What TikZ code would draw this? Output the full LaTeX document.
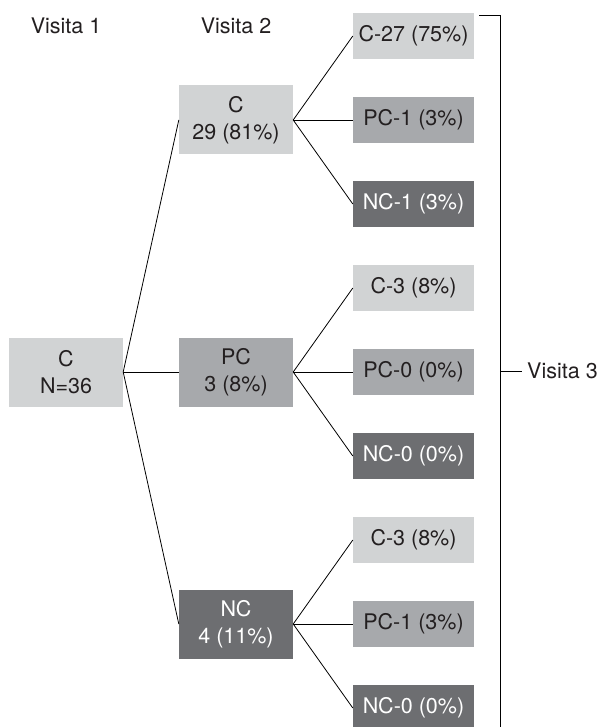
\documentclass[tikz,border=0pt]{standalone}
\usepackage{fontspec}
\setmainfont{TeX Gyre Heros}
\usetikzlibrary{trees}

\definecolor{lightbox}{HTML}{D1D3D4}
\definecolor{midbox}{HTML}{A7A9AC}
\definecolor{darkbox}{HTML}{6D6E71}
\definecolor{inktext}{HTML}{231F20}

\begin{document}
\begin{tikzpicture}[x=1pt,y=1pt]
	\tikzstyle{every node}=[font=\fontsize{21.5}{27}\selectfont,text=inktext]
	\tikzstyle{bigbox}=[rectangle,minimum width=114pt,minimum height=69pt,align=center,inner sep=0pt]
	\tikzstyle{smallbox}=[rectangle,minimum width=121pt,minimum height=46pt,inner sep=0pt]
	\tikzstyle{cbox}=[fill=lightbox]
	\tikzstyle{pcbox}=[fill=midbox]
	\tikzstyle{ncbox}=[fill=darkbox,text=white]
	\tikzstyle{link}=[draw,line width=0.8pt,black]
	
	\useasboundingbox (0,0) rectangle (600,-727);
	
	\node (visit1) at (66,-26) {Visita 1};
	\node (visit2) at (236,-26) {Visita 2};
	
	\node[bigbox,cbox] (root) at (66,-372) {C\\N=36}
	[grow'=right,
	edge from parent/.style={link},
	edge from parent path={(\tikzparentnode.east) -- (\tikzchildnode.west)},
	level 1/.style={level distance=170pt,sibling distance=252pt},
	level 2/.style={level distance=177.5pt,sibling distance=84pt}]
	
	child {
		node[bigbox,cbox] (c) {C\\29 (81\%)}
		child { node[smallbox,cbox] (cc) {C-27 (75\%)} }
		child { node[smallbox,pcbox] (cpc) {PC-1 (3\%)} }
		child { node[smallbox,ncbox] (cnc) {NC-1 (3\%)} }
	}
	child {
		node[bigbox,pcbox] (pc) {PC\\3 (8\%)}
		child { node[smallbox,cbox] (pcc) {C-3 (8\%)} }
		child { node[smallbox,pcbox] (pcpc) {PC-0 (0\%)} }
		child { node[smallbox,ncbox] (pcnc) {NC-0 (0\%)} }
	}
	child {
		node[bigbox,ncbox] (nc) {NC\\4 (11\%)}
		child { node[smallbox,cbox] (ncc) {C-3 (8\%)} }
		child { node[smallbox,pcbox] (ncpc) {PC-1 (3\%)} }
		child { node[smallbox,ncbox] (ncnc) {NC-0 (0\%)} }
	};
	
	% bracket for the third visit
	\coordinate (brtop) at (479,-15);
	\coordinate (brbot) at (500,-727);
	\coordinate (brmid) at (500,-371);
	\node[anchor=west,inner sep=5pt] (visit3) at (522,-371) {Visita 3};
	\draw[link] (brtop) -| (brbot);
	\draw[link] (brmid) -- (visit3.west);
	
\end{tikzpicture}
\end{document}
